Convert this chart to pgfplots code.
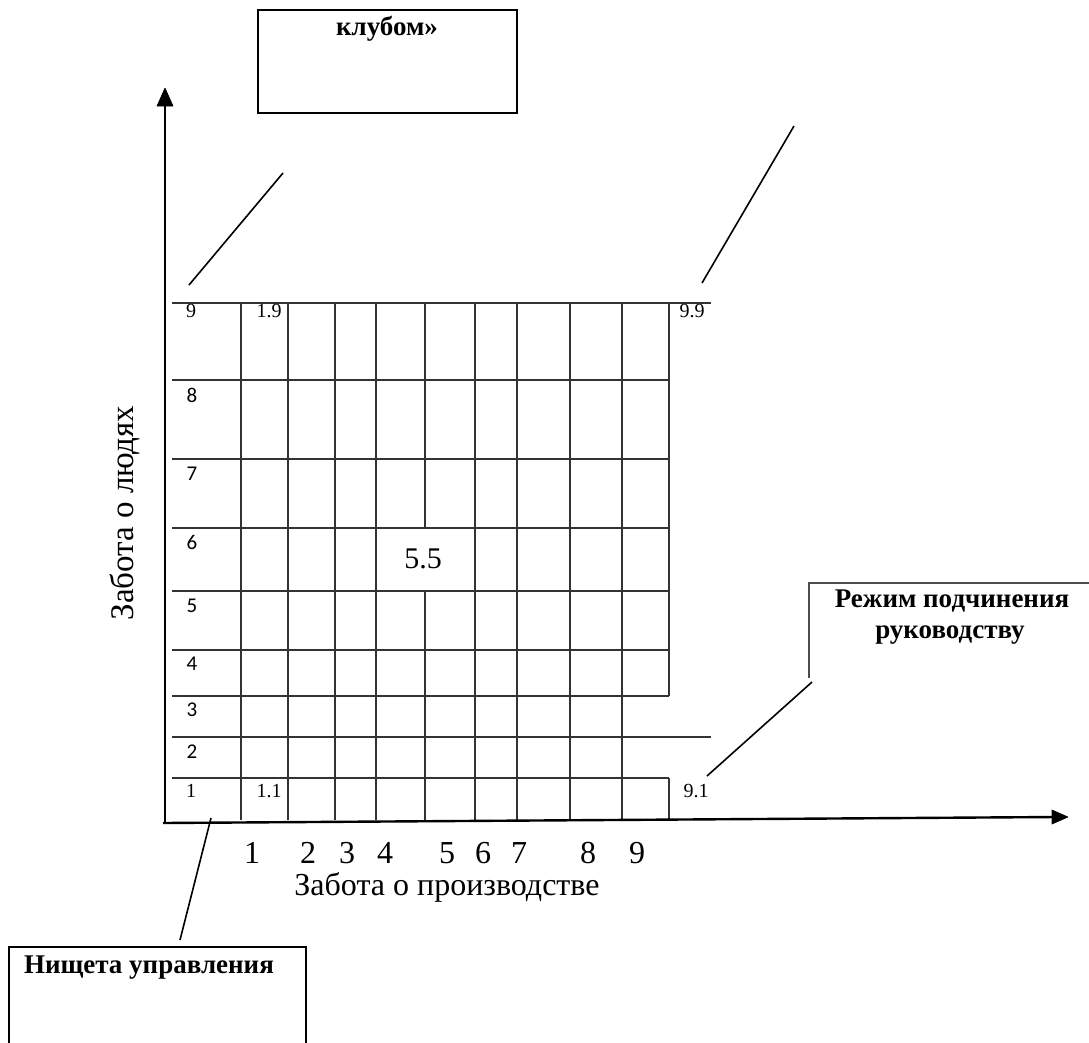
\documentclass[border=0pt]{standalone}
\usepackage{fontspec}
\setmainfont{Liberation Serif}
\newfontfamily\sansdig{Carlito}
\usepackage{pgfplots}
\pgfplotsset{compat=1.18}
\definecolor{gridc}{HTML}{333333}
\begin{document}
\begin{tikzpicture}
\begin{axis}[scale only axis, width=544.5bp, height=521.5bp,
  xmin=0, xmax=1089, ymin=0, ymax=1043, y dir=reverse,
  hide axis, unbounded coords=jump,
  every node/.append style={inner sep=0pt, outer sep=0pt}]
% frame that fixes the picture size (not drawn)
\addplot[draw=none, forget plot] coordinates {(0,0) (1089,1043)};
% horizontal grid lines
\addplot[gridc, line width=0.7bp] coordinates {
(172,303) (711,303) (nan,nan)
(172,380) (669,380) (nan,nan)
(172,459) (669,459) (nan,nan)
(172,528) (669,528) (nan,nan)
(172,591) (669,591) (nan,nan)
(172,650) (669,650) (nan,nan)
(172,696) (669,696) (nan,nan)
(172,737) (711,737) (nan,nan)
(172,778) (669,778)
};
% vertical grid lines
\addplot[gridc, line width=0.7bp] coordinates {
(241,303) (241,820) (nan,nan)
(288,303) (288,820) (nan,nan)
(335,303) (335,820) (nan,nan)
(376,303) (376,820) (nan,nan)
(425,303) (425,528) (nan,nan)
(425,591) (425,820) (nan,nan)
(475,303) (475,820) (nan,nan)
(517,303) (517,820) (nan,nan)
(570,303) (570,820) (nan,nan)
(622,303) (622,820) (nan,nan)
(669,303) (669,696) (nan,nan)
(669,778) (669,820)
};
% axes
\addplot[black, line width=1.2bp] coordinates {(165,823) (165,100)};
\addplot[black, line width=1.2bp] coordinates {(163,823) (1056,817)};
\addplot[black, fill=black, line width=0.3bp] coordinates {(165,88) (157,106) (173,106) (165,88)};
\addplot[black, fill=black, line width=0.3bp] coordinates {(1068,817) (1052,810) (1052,824) (1068,817)};
% boxes
\addplot[black, line width=1bp] coordinates {(258,10) (517,10) (517,113) (258,113) (258,10) (517,10)};
\addplot[black, line width=1bp] coordinates {(9,1060) (9,947) (306,947) (306,1060)};
\addplot[black!70, line width=0.7bp] coordinates {(809,678) (809,583) (1100,583)};
% connectors
\addplot[black, line width=0.8bp] coordinates {
(189,285) (283,173) (nan,nan)
(702,283) (794,126) (nan,nan)
(707,776) (812,682) (nan,nan)
(211,818) (180,940)
};
% cell labels
\node[anchor=base, font=\fontsize{10bp}{12bp}\selectfont] at (axis cs:191,317) {9};
\node[anchor=base, font=\fontsize{10bp}{12bp}\selectfont] at (axis cs:269,317) {1.9};
\node[anchor=base, font=\fontsize{10bp}{12bp}\selectfont] at (axis cs:692,317) {9.9};
\node[anchor=base, font=\sansdig\fontsize{10.5bp}{12bp}\selectfont] at (axis cs:192,402) {8};
\node[anchor=base, font=\sansdig\fontsize{10.5bp}{12bp}\selectfont] at (axis cs:192,480) {7};
\node[anchor=base, font=\sansdig\fontsize{10.5bp}{12bp}\selectfont] at (axis cs:192,549) {6};
\node[anchor=base, font=\sansdig\fontsize{10.5bp}{12bp}\selectfont] at (axis cs:192,612) {5};
\node[anchor=base, font=\sansdig\fontsize{10.5bp}{12bp}\selectfont] at (axis cs:192,670) {4};
\node[anchor=base, font=\sansdig\fontsize{10.5bp}{12bp}\selectfont] at (axis cs:192,716) {3};
\node[anchor=base, font=\sansdig\fontsize{10.5bp}{12bp}\selectfont] at (axis cs:192,758) {2};
\node[anchor=base, font=\fontsize{10bp}{12bp}\selectfont] at (axis cs:191,797) {1};
\node[anchor=base, font=\fontsize{10bp}{12bp}\selectfont] at (axis cs:269,797) {1.1};
\node[anchor=base, font=\fontsize{10bp}{12bp}\selectfont] at (axis cs:696,797) {9.1};
\node[anchor=base, font=\fontsize{15bp}{18bp}\selectfont] at (axis cs:423,568) {5.5};
% axis numbers
\node[anchor=base, font=\fontsize{16bp}{19bp}\selectfont] at (axis cs:252,863) {1};
\node[anchor=base, font=\fontsize{16bp}{19bp}\selectfont] at (axis cs:308,863) {2};
\node[anchor=base, font=\fontsize{16bp}{19bp}\selectfont] at (axis cs:347,863) {3};
\node[anchor=base, font=\fontsize{16bp}{19bp}\selectfont] at (axis cs:385,863) {4};
\node[anchor=base, font=\fontsize{16bp}{19bp}\selectfont] at (axis cs:447,863) {5};
\node[anchor=base, font=\fontsize{16bp}{19bp}\selectfont] at (axis cs:483,863) {6};
\node[anchor=base, font=\fontsize{16bp}{19bp}\selectfont] at (axis cs:519,863) {7};
\node[anchor=base, font=\fontsize{16bp}{19bp}\selectfont] at (axis cs:588,863) {8};
\node[anchor=base, font=\fontsize{16bp}{19bp}\selectfont] at (axis cs:637,863) {9};
% axis labels
\node[anchor=base, font=\fontsize{16bp}{19bp}\selectfont] at (axis cs:447,895) {Забота о производстве};
\node[anchor=base, rotate=90, font=\fontsize{16.5bp}{19bp}\selectfont] at (axis cs:133,513) {Забота о людях};
% box texts
\node[anchor=base, font=\bfseries\fontsize{13.5bp}{16bp}\selectfont] at (axis cs:387,35) {клубом»};
\node[anchor=base west, font=\bfseries\fontsize{13.5bp}{16bp}\selectfont] at (axis cs:17,973) {Нищета управления};
\node[anchor=base, font=\bfseries\fontsize{13.5bp}{16bp}\selectfont] at (axis cs:952,607) {Режим подчинения};
\node[anchor=base, font=\bfseries\fontsize{13.5bp}{16bp}\selectfont] at (axis cs:950,638) {руководству};
\end{axis}
\end{tikzpicture}
\end{document}
